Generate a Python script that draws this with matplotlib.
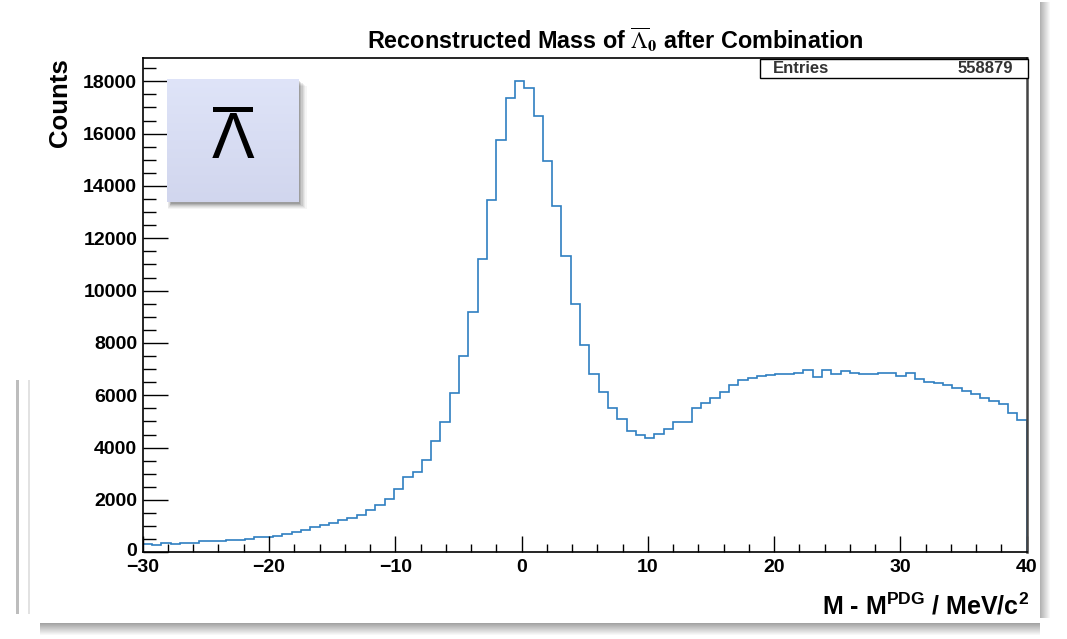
import numpy as np
import matplotlib
matplotlib.use("Agg")
import matplotlib.pyplot as plt
from matplotlib.patches import Rectangle
from matplotlib.transforms import ScaledTranslation

# ---------------- data ----------------
counts = [300, 290, 340, 335, 340, 360, 440, 445, 450, 470,
          480, 500, 580, 600, 640, 700, 765, 850, 950, 1055,
          1130, 1235, 1320, 1420, 1615, 1820, 2050, 2420, 2875, 3085,
          3520, 4245, 4990, 6080, 7505, 9190, 11205, 13475, 15765, 17345,
          18000, 17730, 16670, 14950, 13215, 11340, 9495, 7930, 6800, 6110,
          5500, 5085, 4640, 4490, 4385, 4530, 4705, 4970, 4970, 5510,
          5700, 5910, 6140, 6410, 6590, 6655, 6730, 6770, 6805, 6820,
          6845, 6960, 6715, 6970, 6820, 6935, 6845, 6820, 6815, 6855,
          6870, 6755, 6870, 6630, 6525, 6475, 6400, 6285, 6180, 6030,
          5910, 5800, 5680, 5340, 5060]
x_range = [-30.0, 40.0]
x_ticks = [-30, -20, -10, 0, 10, 20, 30, 40]
y_ticks = [0, 2000, 4000, 6000, 8000, 10000, 12000, 14000, 16000, 18000]
entries = 558879
title = r"Reconstructed Mass of $\overline{\Lambda}_{\mathbf{0}}$ after Combination"
xlabel = r"M - M$^{\mathbf{PDG}}$ / MeV/c$^{\mathbf{2}}$"
ylabel = "Counts"

# ---------------- style ----------------
plt.rcParams["font.family"] = ["Liberation Sans", "DejaVu Sans"]
plt.rcParams["mathtext.fontset"] = "custom"
plt.rcParams["mathtext.rm"] = "Liberation Sans:bold"
plt.rcParams["mathtext.bf"] = "Liberation Sans:bold"
plt.rcParams["mathtext.it"] = "Liberation Sans:bold"

W, H = 1067, 639
fig = plt.figure(figsize=(W / 100, H / 100), dpi=100)
fig.patch.set_facecolor("white")

def fx(px):
    return px / W

def fy(py):
    return 1 - py / H

# soft drop shadow of the pasted picture (right and bottom edges)
for i in range(10):
    fig.patches.append(Rectangle((fx(1040 + i), fy(618)), fx(1.2), fy(2) - fy(618),
                                 transform=fig.transFigure, facecolor="black",
                                 edgecolor="none", alpha=0.03 + 0.03 * (9 - i)))
for i in range(12):
    fig.patches.append(Rectangle((fx(40), fy(624 + i)), fx(1000), fy(0) - fy(1.2),
                                 transform=fig.transFigure, facecolor="black",
                                 edgecolor="none", alpha=0.03 + 0.03 * (11 - i)))
fig.patches.append(Rectangle((fx(16), fy(614)), fx(3), fy(380) - fy(614),
                             transform=fig.transFigure, facecolor="#bdbdbd",
                             edgecolor="none"))
fig.patches.append(Rectangle((fx(28), fy(614)), fx(2), fy(380) - fy(614),
                             transform=fig.transFigure, facecolor="#e2e2e2",
                             edgecolor="none"))

L, R, T, B = 142.7, 1026.7, 57.7, 552.3
ax = fig.add_axes([fx(L), fy(B), fx(R) - fx(L), fy(T) - fy(B)])

edges = np.linspace(x_range[0], x_range[1], len(counts) + 1)
ax.stairs(counts, edges, color="#2f7fc1", lw=1.2)
ax.set_xlim(*x_range)
ax.set_ylim(0, max(counts) * 1.05)

ax.set_xticks(x_ticks)
ax.set_xticklabels([str(v).replace("-", "\u2212") for v in x_ticks])
ax.set_xticks(np.arange(x_range[0], x_range[1] + 0.1, 2), minor=True)
ax.set_yticks(y_ticks)
ax.set_yticklabels([str(v) for v in y_ticks])
ax.set_yticks(np.arange(0, 19000, 500), minor=True)

ax.tick_params(axis="x", which="major", direction="in", length=11.5, width=1.0, pad=5,
               labelsize=14)
ax.tick_params(axis="x", which="minor", direction="in", length=5.5, width=1.0)
ax.tick_params(axis="y", which="major", direction="in", length=18, width=1.0, pad=4,
               labelsize=14)
ax.tick_params(axis="y", which="minor", direction="in", length=9, width=1.0)
for lab in ax.get_xticklabels() + ax.get_yticklabels():
    lab.set_fontweight("bold")
# lift the "0" of the y axis a little, as in the reference
zero_lab = ax.yaxis.get_major_ticks()[0].label1
zero_lab.set_transform(zero_lab.get_transform() +
                       ScaledTranslation(0, 3 / 100, fig.dpi_scale_trans))

for s in ["left", "bottom"]:
    ax.spines[s].set_linewidth(1.2)
    ax.spines[s].set_color("black")
ax.spines["top"].set_linewidth(1.2)
ax.spines["top"].set_color("black")
ax.spines["right"].set_linewidth(1.8)
ax.spines["right"].set_color("#444444")

# title
fig.text(fx(615.5), fy(40), title, ha="center", va="center", fontsize=16.8,
         fontweight="bold", math_fontfamily="stix")

# axis labels
fig.text(fx(60), fy(58), ylabel, rotation=90, ha="center", va="top",
         fontsize=18.5, fontweight="bold")
fig.text(fx(1028.6), fy(606), xlabel, ha="right", va="center",
         fontsize=18, fontweight="bold")

# stats box
fig.patches.append(Rectangle((fx(760), fy(78.3)), fx(1028) - fx(760), fy(59) - fy(78.3),
                             transform=fig.transFigure, facecolor="white",
                             edgecolor="black", lw=1.0, zorder=5))
fig.text(fx(773), fy(68.5), "Entries", ha="left", va="center", fontsize=12,
         fontweight="bold", color="#333333", zorder=6)
fig.text(fx(1013), fy(68.5), str(entries), ha="right", va="center", fontsize=12,
         fontweight="bold", color="#333333", zorder=6)

# inset label box with shadow
bx0, by0, bx1, by1 = 167, 79, 299, 202
for i, a in enumerate([0.04, 0.05, 0.06, 0.08, 0.10, 0.12]):
    off = 7 - i
    fig.patches.append(Rectangle((fx(bx0 + 1 + i * 0.5), fy(by1 + off)),
                                 fx(bx1 - bx0 + off - i), fy(by0 + off) - fy(by1 + off),
                                 transform=fig.transFigure, facecolor="black",
                                 edgecolor="none", alpha=a, zorder=6))
iax = fig.add_axes([fx(bx0), fy(by1), fx(bx1) - fx(bx0), fy(by0) - fy(by1)], zorder=7)
grad = np.linspace(0, 1, 64)[:, None, None]
top_c = np.array([0.874, 0.894, 0.973])
bot_c = np.array([0.820, 0.839, 0.933])
img = top_c * (1 - grad) + bot_c * grad
iax.imshow(np.repeat(img, 4, axis=1), aspect="auto", extent=[0, 1, 0, 1])
iax.set_axis_off()
iax.text(0.5, (by1 - 141) / (by1 - by0), "\u039b", ha="center", va="center",
         fontsize=46, color="black", transform=iax.transAxes,
         family="Liberation Sans")
iax.add_patch(Rectangle(((213 - bx0) / (bx1 - bx0), (by1 - 111.5) / (by1 - by0)),
                        40 / (bx1 - bx0), 4.5 / (by1 - by0), transform=iax.transAxes,
                        facecolor="black", edgecolor="none"))

fig.savefig("out.png", dpi=100)
